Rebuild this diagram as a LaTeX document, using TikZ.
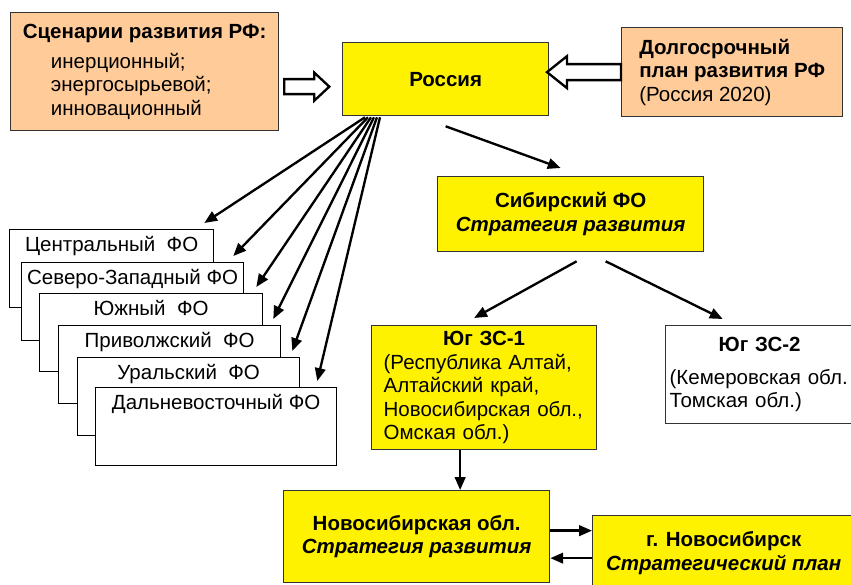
\documentclass[tikz,border=0pt]{standalone}
\usepackage{fontspec}
\setmainfont{Liberation Sans}
\usetikzlibrary{arrows.meta,positioning,calc}

\definecolor{peach}{HTML}{FFCC99}
\definecolor{boxline}{HTML}{333333}

\begin{document}
\begin{tikzpicture}[
        x=0.03cm, y=-0.03cm,
        font=\fontsize{17.5}{20}\selectfont,
        box/.style={draw=boxline, line width=1.1pt, inner sep=0pt, anchor=north west, align=center},
        plan box/.style={box, fill=peach},
        yellow box/.style={box, fill=yellow},
        fo box/.style={box, draw=black, fill=white, minimum height=78*\Px, text height=18pt, text depth=48pt},
        link/.style={line width=2pt, -{Triangle[length=11pt,width=9pt]}},
        hollow/.style={draw=black, line width=2pt, fill=white, line join=miter},
    ]
    \newcommand*{\Px}{0.03cm}

    \useasboundingbox (0,0) rectangle (851,584);
    \clip (0,0) rectangle (851,584);

    % Top row: scenarios, Russia, long-term plan
    \node[plan box, minimum width=268*\Px, minimum height=118*\Px, align=left] (scenarios) at (10,12)
        {\textbf{Сценарии развития РФ:}\\[6pt]
         \hspace*{24pt}инерционный;\\
         \hspace*{24pt}энергосырьевой;\\
         \hspace*{24pt}инновационный};
    \node[yellow box, minimum width=206*\Px, minimum height=73*\Px] (russia) at (342,42) {\textbf{Россия}};
    \node[plan box, minimum width=221*\Px, minimum height=89*\Px, align=left] (longterm) at (621,27)
        {\textbf{Долгосрочный}\\\textbf{план развития РФ}\\(Россия 2020)};

    % Hollow arrows into Russia
    \coordinate (h1) at ($(scenarios.east)+(5,15)$);
    \draw[hollow] (h1) +(0,-7.5) -- +(30,-7.5) -- +(30,-14) -- +(45,0) -- +(30,14) -- +(30,7.5) -- +(0,7.5) -- cycle;
    \draw[hollow] (longterm.west) +(0,-8) -- +(-54,-8) -- +(-54,-16) -- +(-74,0) -- +(-54,16) -- +(-54,8) -- +(0,8) -- cycle;

    % Stack of federal districts
    \node[fo box, minimum width=204*\Px] (centr) at (9,229) {Центральный\ \ ФО};
    \node[fo box, minimum width=222*\Px] (nwest) at (21,262) {Северо-Западный ФО};
    \node[fo box, minimum width=223*\Px] (south) at (39,293) {Южный\ \ ФО};
    \node[fo box, minimum width=222*\Px] (volga) at (58,325) {Приволжский\ \ ФО};
    \node[fo box, minimum width=222*\Px] (ural) at (77,357) {Уральский\ \ ФО};
    \node[fo box, minimum width=241*\Px] (east) at (95,387) {Дальневосточный ФО};

    \foreach \fo/\dx/\tx in {centr/23/-10, nwest/26/-11, south/29/-7, volga/32/-8, ural/35/-8, east/38/-20} {
            \draw[link] ($(russia.south west)+(\dx,1)$) -- ($(\fo.north east)+(\tx,-6)$);
        }

    % Siberian branch
    \node[yellow box, minimum width=266*\Px, minimum height=75*\Px] (siberia) at (437,176)
        {\textbf{Сибирский ФО}\\\textbf{\itshape Стратегия развития}};
    \node[yellow box, minimum width=225*\Px, minimum height=124*\Px, text width=201*\Px, align=left] (yug1) at (371,325)
        {\makebox[\linewidth]{\textbf{Юг ЗС-1}}\\
         (Республика Алтай,\\Алтайский край,\\Новосибирская обл.,\\Омская обл.)};
    \node[box, fill=white, minimum width=188*\Px, minimum height=98*\Px, text width=180*\Px, align=left] (yug2) at (665,325)
        {\makebox[\linewidth]{\textbf{Юг ЗС-2}}\\[8pt]
         (Кемеровская обл.\\Томская обл.)};
    \node[yellow box, minimum width=266*\Px, minimum height=92*\Px] (novosib) at (283,490)
        {\textbf{Новосибирская обл.}\\\textbf{\itshape Стратегия развития}};
    \node[yellow box, minimum width=262*\Px, minimum height=75*\Px] (city) at (592,515)
        {\textbf{г. Новосибирск}\\\textbf{\itshape Стратегический план}};

    \draw[link] ($(russia.south)+(0,10)$) -- ($(siberia.north)+(-10,-8)$);
    \draw[link] ($(siberia.south)+(6,9)$) -- ($(yug1.north)+(-10,-7)$);
    \draw[link] ($(siberia.south)+(35,9)$) -- ($(yug2.north)+(-37,-6)$);

    \coordinate (down) at ($(yug1.south)+(-24,0)$);
    \coordinate (there) at ($(novosib.east)+(0,-6)$);
    \coordinate (back) at ($(city.west)+(0,5)$);
    \draw[link] (down) -- (down |- novosib.north);
    \draw[link] (there) -- (there -| city.west);
    \draw[link] (back) -- (back -| novosib.east);
\end{tikzpicture}
\end{document}
